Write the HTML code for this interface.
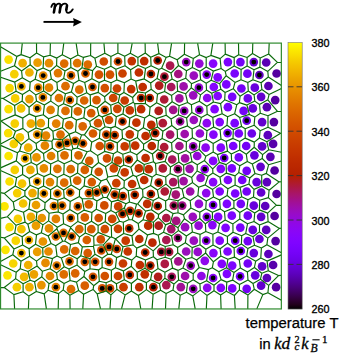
<!DOCTYPE html>
<html><head><meta charset="utf-8"><style>
html,body{margin:0;padding:0;background:#fff;}
svg{display:block;}
</style></head><body>
<svg width="342" height="353" viewBox="0 0 342 353">
<rect width="342" height="353" fill="#fff"/>
<defs><linearGradient id="cb" x1="0" y1="0" x2="0" y2="1"><stop offset="0.0000" stop-color="#ffff00"/><stop offset="0.0167" stop-color="#fdf200"/><stop offset="0.0333" stop-color="#fbe600"/><stop offset="0.0500" stop-color="#f9db00"/><stop offset="0.0667" stop-color="#f6cf00"/><stop offset="0.0833" stop-color="#f4c400"/><stop offset="0.1000" stop-color="#f2ba00"/><stop offset="0.1167" stop-color="#f0b000"/><stop offset="0.1333" stop-color="#eda600"/><stop offset="0.1500" stop-color="#eb9d00"/><stop offset="0.1667" stop-color="#e99400"/><stop offset="0.1833" stop-color="#e68b00"/><stop offset="0.2000" stop-color="#e48300"/><stop offset="0.2167" stop-color="#e27b00"/><stop offset="0.2333" stop-color="#df7300"/><stop offset="0.2500" stop-color="#dd6c00"/><stop offset="0.2667" stop-color="#da6500"/><stop offset="0.2833" stop-color="#d85e00"/><stop offset="0.3000" stop-color="#d55700"/><stop offset="0.3167" stop-color="#d35100"/><stop offset="0.3333" stop-color="#d04c00"/><stop offset="0.3500" stop-color="#ce4600"/><stop offset="0.3667" stop-color="#cb4100"/><stop offset="0.3833" stop-color="#c83c00"/><stop offset="0.4000" stop-color="#c63700"/><stop offset="0.4167" stop-color="#c33300"/><stop offset="0.4333" stop-color="#c02e00"/><stop offset="0.4500" stop-color="#bd2a00"/><stop offset="0.4667" stop-color="#ba2700"/><stop offset="0.4833" stop-color="#b72300"/><stop offset="0.5000" stop-color="#b42000"/><stop offset="0.5167" stop-color="#b11d1b"/><stop offset="0.5333" stop-color="#ae1a35"/><stop offset="0.5500" stop-color="#ab174f"/><stop offset="0.5667" stop-color="#a81568"/><stop offset="0.5833" stop-color="#a5127f"/><stop offset="0.6000" stop-color="#a11096"/><stop offset="0.6167" stop-color="#9e0eab"/><stop offset="0.6333" stop-color="#9a0dbe"/><stop offset="0.6500" stop-color="#970bce"/><stop offset="0.6667" stop-color="#9309dd"/><stop offset="0.6833" stop-color="#8f08e9"/><stop offset="0.7000" stop-color="#8c07f3"/><stop offset="0.7167" stop-color="#8806f9"/><stop offset="0.7333" stop-color="#8405fe"/><stop offset="0.7500" stop-color="#8004ff"/><stop offset="0.7667" stop-color="#7b03fe"/><stop offset="0.7833" stop-color="#7703f9"/><stop offset="0.8000" stop-color="#7202f3"/><stop offset="0.8167" stop-color="#6d02e9"/><stop offset="0.8333" stop-color="#6801dd"/><stop offset="0.8500" stop-color="#6301ce"/><stop offset="0.8667" stop-color="#5d01be"/><stop offset="0.8833" stop-color="#5700ab"/><stop offset="0.9000" stop-color="#510096"/><stop offset="0.9167" stop-color="#4a007f"/><stop offset="0.9333" stop-color="#420068"/><stop offset="0.9500" stop-color="#39004f"/><stop offset="0.9667" stop-color="#2f0035"/><stop offset="0.9833" stop-color="#21001b"/><stop offset="1.0000" stop-color="#000000"/></linearGradient></defs>
<g><circle cx="8.6" cy="59.6" r="4.35" fill="#fae000"/><circle cx="22.6" cy="63.2" r="4.35" fill="#f0b000"/><circle cx="37.6" cy="62.7" r="4.35" fill="#eb9d00"/><circle cx="49.0" cy="63.2" r="4.35" fill="#e68b00"/><circle cx="64.2" cy="63.6" r="4.35" fill="#dd6c00"/><circle cx="14.3" cy="74.2" r="4.35" fill="#f6cf00"/><circle cx="29.4" cy="72.5" r="4.35" fill="#f0b000"/><circle cx="43.2" cy="75.6" r="4.35" fill="#e68b00"/><circle cx="58.0" cy="73.1" r="4.35" fill="#e07700"/><circle cx="71.0" cy="75.4" r="4.35" fill="#dd6c00"/><circle cx="9.6" cy="88.1" r="4.35" fill="#f7d500"/><circle cx="21.4" cy="86.4" r="4.35" fill="#f0b000"/><circle cx="38.2" cy="87.7" r="4.35" fill="#e68b00"/><circle cx="49.0" cy="87.7" r="4.35" fill="#e48300"/><circle cx="65.5" cy="86.2" r="4.35" fill="#dd6c00"/><circle cx="15.2" cy="98.4" r="4.35" fill="#f6cf00"/><circle cx="29.4" cy="99.1" r="4.35" fill="#eb9d00"/><circle cx="42.9" cy="97.4" r="4.35" fill="#e68b00"/><circle cx="59.0" cy="98.0" r="4.35" fill="#df7300"/><circle cx="69.8" cy="100.0" r="4.35" fill="#dd6c00"/><circle cx="8.6" cy="109.2" r="4.35" fill="#fae000"/><circle cx="21.1" cy="108.4" r="4.35" fill="#f4c400"/><circle cx="37.2" cy="108.4" r="4.35" fill="#e99400"/><circle cx="50.6" cy="109.9" r="4.35" fill="#e37f00"/><circle cx="65.5" cy="110.9" r="4.35" fill="#dd6c00"/><circle cx="77.2" cy="63.2" r="4.35" fill="#df7300"/><circle cx="87.8" cy="64.6" r="4.35" fill="#dd6c00"/><circle cx="103.8" cy="61.5" r="4.35" fill="#d04c00"/><circle cx="118.0" cy="61.5" r="4.35" fill="#d04c00"/><circle cx="85.5" cy="73.5" r="4.35" fill="#da6500"/><circle cx="99.0" cy="74.6" r="4.35" fill="#d35100"/><circle cx="110.0" cy="74.6" r="4.35" fill="#d35100"/><circle cx="122.5" cy="73.5" r="4.35" fill="#cb4100"/><circle cx="79.3" cy="89.7" r="4.35" fill="#dd6c00"/><circle cx="92.5" cy="87.0" r="4.35" fill="#d75b00"/><circle cx="104.8" cy="88.1" r="4.35" fill="#d35100"/><circle cx="117.0" cy="88.5" r="4.35" fill="#cb4100"/><circle cx="84.2" cy="100.5" r="4.35" fill="#da6500"/><circle cx="96.5" cy="100.1" r="4.35" fill="#d75b00"/><circle cx="113.2" cy="98.0" r="4.35" fill="#ce4600"/><circle cx="124.7" cy="100.5" r="4.35" fill="#c73900"/><circle cx="77.8" cy="111.4" r="4.35" fill="#da6500"/><circle cx="91.2" cy="113.1" r="4.35" fill="#d75b00"/><circle cx="104.8" cy="109.9" r="4.35" fill="#d35100"/><circle cx="117.3" cy="108.8" r="4.35" fill="#ce4600"/><circle cx="131.8" cy="61.1" r="4.35" fill="#c33300"/><circle cx="144.2" cy="61.1" r="4.35" fill="#c02e00"/><circle cx="157.7" cy="60.5" r="4.35" fill="#b42000"/><circle cx="170.1" cy="65.7" r="4.35" fill="#ab174f"/><circle cx="186.2" cy="62.1" r="4.35" fill="#9a0dbe"/><circle cx="138.9" cy="72.5" r="4.35" fill="#c02e00"/><circle cx="150.9" cy="74.0" r="4.35" fill="#bc2900"/><circle cx="164.4" cy="76.7" r="4.35" fill="#ae1a35"/><circle cx="178.3" cy="74.0" r="4.35" fill="#a5127f"/><circle cx="131.2" cy="89.1" r="4.35" fill="#c33300"/><circle cx="142.7" cy="87.0" r="4.35" fill="#c02e00"/><circle cx="159.2" cy="85.6" r="4.35" fill="#b11d1b"/><circle cx="171.2" cy="87.0" r="4.35" fill="#a9165b"/><circle cx="183.6" cy="86.4" r="4.35" fill="#9e0eab"/><circle cx="141.1" cy="98.0" r="4.35" fill="#c02e00"/><circle cx="149.8" cy="98.0" r="4.35" fill="#bc2900"/><circle cx="164.2" cy="99.5" r="4.35" fill="#ae1a35"/><circle cx="179.4" cy="98.4" r="4.35" fill="#a00fa0"/><circle cx="129.8" cy="110.4" r="4.35" fill="#c63700"/><circle cx="141.1" cy="109.2" r="4.35" fill="#c02e00"/><circle cx="158.7" cy="110.9" r="4.35" fill="#b11d1b"/><circle cx="173.2" cy="109.9" r="4.35" fill="#a3118b"/><circle cx="184.2" cy="110.9" r="4.35" fill="#9a0dbe"/><circle cx="199.3" cy="63.6" r="4.35" fill="#950ad6"/><circle cx="213.1" cy="63.6" r="4.35" fill="#8605fc"/><circle cx="227.9" cy="62.1" r="4.35" fill="#7b03fe"/><circle cx="240.4" cy="62.1" r="4.35" fill="#7402f6"/><circle cx="193.8" cy="75.6" r="4.35" fill="#9a0dbe"/><circle cx="206.7" cy="74.6" r="4.35" fill="#8d07f0"/><circle cx="217.7" cy="77.3" r="4.35" fill="#8405fe"/><circle cx="234.7" cy="73.5" r="4.35" fill="#7903fc"/><circle cx="247.4" cy="73.7" r="4.35" fill="#7402f6"/><circle cx="198.9" cy="87.7" r="4.35" fill="#950ad6"/><circle cx="213.8" cy="87.0" r="4.35" fill="#8605fc"/><circle cx="226.3" cy="84.4" r="4.35" fill="#7b03fe"/><circle cx="241.4" cy="88.5" r="4.35" fill="#7402f6"/><circle cx="193.2" cy="95.3" r="4.35" fill="#9a0dbe"/><circle cx="207.2" cy="98.0" r="4.35" fill="#8d07f0"/><circle cx="217.7" cy="96.0" r="4.35" fill="#8405fe"/><circle cx="232.2" cy="96.8" r="4.35" fill="#7903fc"/><circle cx="247.8" cy="98.4" r="4.35" fill="#7002ee"/><circle cx="199.3" cy="109.9" r="4.35" fill="#950ad6"/><circle cx="214.6" cy="109.2" r="4.35" fill="#8405fe"/><circle cx="227.9" cy="107.2" r="4.35" fill="#7b03fe"/><circle cx="243.6" cy="110.9" r="4.35" fill="#7402f6"/><circle cx="253.8" cy="62.1" r="4.35" fill="#6301ce"/><circle cx="266.2" cy="62.5" r="4.35" fill="#5a00b4"/><circle cx="259.4" cy="75.0" r="4.35" fill="#5d01be"/><circle cx="276.6" cy="73.5" r="4.35" fill="#5400a0"/><circle cx="254.8" cy="87.7" r="4.35" fill="#6801dd"/><circle cx="268.4" cy="86.0" r="4.35" fill="#5a00b4"/><circle cx="261.1" cy="96.8" r="4.35" fill="#6301ce"/><circle cx="275.2" cy="100.1" r="4.35" fill="#5400a0"/><circle cx="252.8" cy="108.4" r="4.35" fill="#6801dd"/><circle cx="266.9" cy="107.2" r="4.35" fill="#5a00b4"/><circle cx="14.8" cy="123.6" r="4.35" fill="#f6cf00"/><circle cx="30.9" cy="123.6" r="4.35" fill="#efab00"/><circle cx="40.8" cy="123.2" r="4.35" fill="#eb9d00"/><circle cx="56.2" cy="123.6" r="4.35" fill="#e37f00"/><circle cx="8.2" cy="133.1" r="4.35" fill="#fae000"/><circle cx="19.9" cy="137.3" r="4.35" fill="#f4c400"/><circle cx="37.2" cy="134.6" r="4.35" fill="#e99400"/><circle cx="46.0" cy="135.6" r="4.35" fill="#e48300"/><circle cx="60.5" cy="134.6" r="4.35" fill="#dd6c00"/><circle cx="13.8" cy="143.9" r="4.35" fill="#f6cf00"/><circle cx="28.2" cy="147.7" r="4.35" fill="#f0b000"/><circle cx="44.9" cy="145.6" r="4.35" fill="#e48300"/><circle cx="59.5" cy="144.5" r="4.35" fill="#dd6c00"/><circle cx="67.0" cy="142.9" r="4.35" fill="#da6500"/><circle cx="8.6" cy="156.0" r="4.35" fill="#fbe600"/><circle cx="25.1" cy="158.4" r="4.35" fill="#f0b000"/><circle cx="36.5" cy="157.4" r="4.35" fill="#e99400"/><circle cx="51.1" cy="156.0" r="4.35" fill="#e37f00"/><circle cx="64.5" cy="155.3" r="4.35" fill="#dd6c00"/><circle cx="14.8" cy="169.9" r="4.35" fill="#f6cf00"/><circle cx="30.4" cy="169.9" r="4.35" fill="#efab00"/><circle cx="43.9" cy="168.4" r="4.35" fill="#e68b00"/><circle cx="57.4" cy="168.8" r="4.35" fill="#df7300"/><circle cx="69.2" cy="125.2" r="4.35" fill="#dd6c00"/><circle cx="82.7" cy="126.3" r="4.35" fill="#da6500"/><circle cx="98.0" cy="123.2" r="4.35" fill="#d45400"/><circle cx="109.0" cy="120.0" r="4.35" fill="#d04c00"/><circle cx="122.5" cy="121.5" r="4.35" fill="#ca3e00"/><circle cx="75.2" cy="140.8" r="4.35" fill="#da6500"/><circle cx="83.0" cy="143.5" r="4.35" fill="#d85e00"/><circle cx="93.0" cy="133.5" r="4.35" fill="#d75b00"/><circle cx="106.3" cy="134.6" r="4.35" fill="#d04c00"/><circle cx="114.7" cy="135.2" r="4.35" fill="#ce4600"/><circle cx="129.8" cy="134.3" r="4.35" fill="#c63700"/><circle cx="99.7" cy="146.0" r="4.35" fill="#d35100"/><circle cx="110.0" cy="146.4" r="4.35" fill="#d04c00"/><circle cx="124.7" cy="146.4" r="4.35" fill="#c83c00"/><circle cx="78.5" cy="155.3" r="4.35" fill="#da6500"/><circle cx="89.3" cy="160.9" r="4.35" fill="#d75b00"/><circle cx="107.0" cy="158.4" r="4.35" fill="#d04c00"/><circle cx="118.0" cy="160.5" r="4.35" fill="#cb4100"/><circle cx="128.8" cy="159.5" r="4.35" fill="#c33300"/><circle cx="70.7" cy="169.2" r="4.35" fill="#dd6c00"/><circle cx="84.8" cy="169.9" r="4.35" fill="#d85e00"/><circle cx="98.7" cy="171.8" r="4.35" fill="#d35100"/><circle cx="113.8" cy="168.4" r="4.35" fill="#ce4600"/><circle cx="124.7" cy="172.4" r="4.35" fill="#c73900"/><circle cx="136.4" cy="122.7" r="4.35" fill="#c33300"/><circle cx="151.3" cy="124.8" r="4.35" fill="#bd2a00"/><circle cx="162.8" cy="123.2" r="4.35" fill="#ae1a35"/><circle cx="180.1" cy="121.5" r="4.35" fill="#a00fa0"/><circle cx="145.6" cy="136.0" r="4.35" fill="#c02e00"/><circle cx="155.2" cy="133.1" r="4.35" fill="#ba2700"/><circle cx="170.1" cy="134.6" r="4.35" fill="#a81568"/><circle cx="184.7" cy="134.0" r="4.35" fill="#9e0eab"/><circle cx="135.2" cy="145.6" r="4.35" fill="#c33300"/><circle cx="151.8" cy="146.0" r="4.35" fill="#bc2900"/><circle cx="164.2" cy="147.0" r="4.35" fill="#ae1a35"/><circle cx="179.4" cy="146.0" r="4.35" fill="#a3118b"/><circle cx="145.6" cy="158.0" r="4.35" fill="#c02e00"/><circle cx="160.2" cy="156.0" r="4.35" fill="#b11d1b"/><circle cx="172.2" cy="159.5" r="4.35" fill="#a9165b"/><circle cx="185.1" cy="158.4" r="4.35" fill="#a00fa0"/><circle cx="138.9" cy="168.4" r="4.35" fill="#c33300"/><circle cx="148.8" cy="169.2" r="4.35" fill="#c02e00"/><circle cx="162.8" cy="168.4" r="4.35" fill="#ae1a35"/><circle cx="177.9" cy="169.2" r="4.35" fill="#a61474"/><circle cx="193.8" cy="120.0" r="4.35" fill="#9a0dbe"/><circle cx="206.8" cy="123.2" r="4.35" fill="#8d07f0"/><circle cx="219.7" cy="122.1" r="4.35" fill="#8405fe"/><circle cx="234.7" cy="123.2" r="4.35" fill="#7b03fe"/><circle cx="246.7" cy="120.7" r="4.35" fill="#7002ee"/><circle cx="199.9" cy="133.5" r="4.35" fill="#950ad6"/><circle cx="213.4" cy="134.6" r="4.35" fill="#8605fc"/><circle cx="227.6" cy="133.1" r="4.35" fill="#8004ff"/><circle cx="238.8" cy="133.5" r="4.35" fill="#7903fc"/><circle cx="193.2" cy="146.4" r="4.35" fill="#9a0dbe"/><circle cx="205.6" cy="147.7" r="4.35" fill="#8d07f0"/><circle cx="220.8" cy="147.7" r="4.35" fill="#8405fe"/><circle cx="233.2" cy="146.0" r="4.35" fill="#7b03fe"/><circle cx="246.2" cy="146.0" r="4.35" fill="#7402f6"/><circle cx="197.2" cy="156.0" r="4.35" fill="#950ad6"/><circle cx="213.1" cy="160.9" r="4.35" fill="#8605fc"/><circle cx="224.2" cy="158.0" r="4.35" fill="#8004ff"/><circle cx="238.8" cy="157.4" r="4.35" fill="#7903fc"/><circle cx="189.6" cy="168.8" r="4.35" fill="#9e0eab"/><circle cx="204.8" cy="169.2" r="4.35" fill="#8f08ec"/><circle cx="220.8" cy="168.8" r="4.35" fill="#8405fe"/><circle cx="231.8" cy="168.4" r="4.35" fill="#7b03fe"/><circle cx="246.7" cy="170.8" r="4.35" fill="#7402f6"/><circle cx="262.1" cy="122.1" r="4.35" fill="#6301ce"/><circle cx="273.9" cy="122.1" r="4.35" fill="#5400a0"/><circle cx="251.8" cy="133.5" r="4.35" fill="#6d02e9"/><circle cx="267.8" cy="135.2" r="4.35" fill="#5d01be"/><circle cx="262.1" cy="146.4" r="4.35" fill="#6301ce"/><circle cx="273.1" cy="143.9" r="4.35" fill="#5700ab"/><circle cx="254.4" cy="155.3" r="4.35" fill="#6801dd"/><circle cx="270.4" cy="156.8" r="4.35" fill="#5a00b4"/><circle cx="260.6" cy="166.8" r="4.35" fill="#6301ce"/><circle cx="274.6" cy="170.5" r="4.35" fill="#5400a0"/><circle cx="9.6" cy="181.5" r="4.35" fill="#fae000"/><circle cx="22.1" cy="183.6" r="4.35" fill="#f4c400"/><circle cx="37.2" cy="181.5" r="4.35" fill="#eb9d00"/><circle cx="50.0" cy="182.1" r="4.35" fill="#e48300"/><circle cx="64.2" cy="182.7" r="4.35" fill="#dd6c00"/><circle cx="17.2" cy="193.1" r="4.35" fill="#f6cf00"/><circle cx="32.5" cy="193.1" r="4.35" fill="#efab00"/><circle cx="43.9" cy="193.5" r="4.35" fill="#e99400"/><circle cx="57.4" cy="193.5" r="4.35" fill="#e27b00"/><circle cx="4.5" cy="206.4" r="4.35" fill="#fbe600"/><circle cx="23.1" cy="203.5" r="4.35" fill="#f4c400"/><circle cx="36.0" cy="205.0" r="4.35" fill="#eb9d00"/><circle cx="53.9" cy="206.0" r="4.35" fill="#e37f00"/><circle cx="62.1" cy="205.6" r="4.35" fill="#df7300"/><circle cx="17.9" cy="218.9" r="4.35" fill="#f6cf00"/><circle cx="30.9" cy="216.8" r="4.35" fill="#efab00"/><circle cx="41.8" cy="218.0" r="4.35" fill="#e99400"/><circle cx="55.9" cy="218.9" r="4.35" fill="#e37f00"/><circle cx="9.6" cy="227.2" r="4.35" fill="#fae000"/><circle cx="21.4" cy="229.2" r="4.35" fill="#f4c400"/><circle cx="36.0" cy="225.7" r="4.35" fill="#eb9d00"/><circle cx="49.0" cy="228.4" r="4.35" fill="#e68b00"/><circle cx="77.2" cy="180.7" r="4.35" fill="#da6500"/><circle cx="91.8" cy="182.1" r="4.35" fill="#d75b00"/><circle cx="116.3" cy="183.2" r="4.35" fill="#cb4100"/><circle cx="70.2" cy="192.5" r="4.35" fill="#dd6c00"/><circle cx="88.8" cy="193.1" r="4.35" fill="#d75b00"/><circle cx="96.8" cy="192.5" r="4.35" fill="#d45400"/><circle cx="104.8" cy="189.5" r="4.35" fill="#d04c00"/><circle cx="114.7" cy="194.6" r="4.35" fill="#cc4300"/><circle cx="122.8" cy="196.1" r="4.35" fill="#c83c00"/><circle cx="77.8" cy="206.4" r="4.35" fill="#da6500"/><circle cx="88.8" cy="204.3" r="4.35" fill="#d75b00"/><circle cx="104.3" cy="205.4" r="4.35" fill="#d04c00"/><circle cx="118.2" cy="206.4" r="4.35" fill="#cb4100"/><circle cx="122.5" cy="213.9" r="4.35" fill="#c73900"/><circle cx="130.1" cy="210.9" r="4.35" fill="#c33300"/><circle cx="70.7" cy="218.0" r="4.35" fill="#dd6c00"/><circle cx="84.8" cy="217.4" r="4.35" fill="#d85e00"/><circle cx="98.7" cy="218.0" r="4.35" fill="#d35100"/><circle cx="112.2" cy="218.9" r="4.35" fill="#ce4600"/><circle cx="79.3" cy="229.2" r="4.35" fill="#da6500"/><circle cx="91.3" cy="229.2" r="4.35" fill="#d75b00"/><circle cx="104.8" cy="229.2" r="4.35" fill="#d04c00"/><circle cx="118.0" cy="228.8" r="4.35" fill="#cb4100"/><circle cx="129.2" cy="228.4" r="4.35" fill="#c33300"/><circle cx="132.1" cy="184.0" r="4.35" fill="#c33300"/><circle cx="144.2" cy="180.0" r="4.35" fill="#c02e00"/><circle cx="158.7" cy="182.7" r="4.35" fill="#b42000"/><circle cx="173.2" cy="182.1" r="4.35" fill="#a9165b"/><circle cx="183.6" cy="181.1" r="4.35" fill="#a00fa0"/><circle cx="134.8" cy="194.8" r="4.35" fill="#c33300"/><circle cx="150.9" cy="194.0" r="4.35" fill="#bd2a00"/><circle cx="164.8" cy="191.5" r="4.35" fill="#ae1a35"/><circle cx="175.8" cy="194.6" r="4.35" fill="#a61474"/><circle cx="147.2" cy="203.9" r="4.35" fill="#c02e00"/><circle cx="157.7" cy="206.0" r="4.35" fill="#b42000"/><circle cx="173.8" cy="205.6" r="4.35" fill="#a9165b"/><circle cx="182.2" cy="205.6" r="4.35" fill="#a3118b"/><circle cx="138.6" cy="213.3" r="4.35" fill="#c02e00"/><circle cx="150.3" cy="216.8" r="4.35" fill="#bc2900"/><circle cx="166.3" cy="218.0" r="4.35" fill="#ad1942"/><circle cx="176.2" cy="220.9" r="4.35" fill="#a5127f"/><circle cx="148.2" cy="225.7" r="4.35" fill="#bf2c00"/><circle cx="158.7" cy="225.7" r="4.35" fill="#b11d1b"/><circle cx="171.2" cy="229.2" r="4.35" fill="#a81568"/><circle cx="185.1" cy="227.2" r="4.35" fill="#9a0dbe"/><circle cx="200.6" cy="178.0" r="4.35" fill="#950ad6"/><circle cx="213.1" cy="182.1" r="4.35" fill="#8806f9"/><circle cx="227.9" cy="180.0" r="4.35" fill="#8004ff"/><circle cx="242.2" cy="180.0" r="4.35" fill="#7703f9"/><circle cx="190.2" cy="191.5" r="4.35" fill="#9e0eab"/><circle cx="206.2" cy="193.1" r="4.35" fill="#8f08ec"/><circle cx="219.7" cy="191.5" r="4.35" fill="#8405fe"/><circle cx="235.2" cy="193.5" r="4.35" fill="#7b03fe"/><circle cx="246.7" cy="191.5" r="4.35" fill="#7402f6"/><circle cx="198.9" cy="203.9" r="4.35" fill="#950ad6"/><circle cx="213.1" cy="205.0" r="4.35" fill="#8806f9"/><circle cx="226.9" cy="203.9" r="4.35" fill="#8004ff"/><circle cx="240.8" cy="203.9" r="4.35" fill="#7703f9"/><circle cx="192.8" cy="216.8" r="4.35" fill="#9a0dbe"/><circle cx="206.8" cy="216.8" r="4.35" fill="#8f08ec"/><circle cx="218.1" cy="216.8" r="4.35" fill="#8405fe"/><circle cx="231.8" cy="215.7" r="4.35" fill="#7d04ff"/><circle cx="247.8" cy="215.7" r="4.35" fill="#7402f6"/><circle cx="198.6" cy="225.7" r="4.35" fill="#950ad6"/><circle cx="212.4" cy="225.1" r="4.35" fill="#8806f9"/><circle cx="225.6" cy="227.8" r="4.35" fill="#8004ff"/><circle cx="240.3" cy="227.6" r="4.35" fill="#7903fc"/><circle cx="256.6" cy="182.1" r="4.35" fill="#6801dd"/><circle cx="266.9" cy="182.1" r="4.35" fill="#5d01be"/><circle cx="261.1" cy="192.5" r="4.35" fill="#6301ce"/><circle cx="276.6" cy="194.0" r="4.35" fill="#5400a0"/><circle cx="253.8" cy="205.6" r="4.35" fill="#6801dd"/><circle cx="265.2" cy="206.0" r="4.35" fill="#5d01be"/><circle cx="261.1" cy="216.8" r="4.35" fill="#6301ce"/><circle cx="274.6" cy="216.0" r="4.35" fill="#5400a0"/><circle cx="252.8" cy="229.9" r="4.35" fill="#6801dd"/><circle cx="266.2" cy="229.9" r="4.35" fill="#5d01be"/><circle cx="55.9" cy="236.5" r="4.35" fill="#df7300"/><circle cx="15.8" cy="240.7" r="4.35" fill="#f7d500"/><circle cx="28.9" cy="240.0" r="4.35" fill="#f0b000"/><circle cx="42.9" cy="241.5" r="4.35" fill="#e99400"/><circle cx="5.5" cy="249.8" r="4.35" fill="#fbe600"/><circle cx="21.4" cy="253.1" r="4.35" fill="#f2ba00"/><circle cx="37.2" cy="251.9" r="4.35" fill="#eb9d00"/><circle cx="48.5" cy="251.5" r="4.35" fill="#e68b00"/><circle cx="64.2" cy="249.4" r="4.35" fill="#dd6c00"/><circle cx="13.2" cy="263.5" r="4.35" fill="#f7d500"/><circle cx="28.2" cy="265.0" r="4.35" fill="#f0b000"/><circle cx="45.5" cy="262.9" r="4.35" fill="#e68b00"/><circle cx="56.8" cy="265.6" r="4.35" fill="#e27b00"/><circle cx="7.5" cy="275.3" r="4.35" fill="#fbe600"/><circle cx="24.1" cy="276.8" r="4.35" fill="#f2ba00"/><circle cx="33.9" cy="274.3" r="4.35" fill="#eca100"/><circle cx="50.0" cy="276.0" r="4.35" fill="#e58700"/><circle cx="63.8" cy="274.4" r="4.35" fill="#dd6c00"/><circle cx="16.9" cy="287.2" r="4.35" fill="#f6cf00"/><circle cx="29.4" cy="287.2" r="4.35" fill="#f0b000"/><circle cx="41.4" cy="285.1" r="4.35" fill="#e99400"/><circle cx="55.9" cy="287.2" r="4.35" fill="#e37f00"/><circle cx="63.5" cy="232.9" r="4.35" fill="#dd6c00"/><circle cx="71.7" cy="236.5" r="4.35" fill="#da6500"/><circle cx="86.8" cy="240.0" r="4.35" fill="#d85e00"/><circle cx="100.8" cy="239.4" r="4.35" fill="#d35100"/><circle cx="109.0" cy="246.9" r="4.35" fill="#d04c00"/><circle cx="116.8" cy="249.0" r="4.35" fill="#ce4600"/><circle cx="125.7" cy="240.7" r="4.35" fill="#c73900"/><circle cx="75.2" cy="251.0" r="4.35" fill="#da6500"/><circle cx="87.7" cy="253.1" r="4.35" fill="#d75b00"/><circle cx="101.3" cy="250.4" r="4.35" fill="#d35100"/><circle cx="127.8" cy="251.5" r="4.35" fill="#c63700"/><circle cx="69.5" cy="261.4" r="4.35" fill="#dd6c00"/><circle cx="84.8" cy="261.8" r="4.35" fill="#d85e00"/><circle cx="95.2" cy="261.8" r="4.35" fill="#d55700"/><circle cx="109.0" cy="261.8" r="4.35" fill="#d04c00"/><circle cx="123.0" cy="263.5" r="4.35" fill="#c83c00"/><circle cx="75.2" cy="273.3" r="4.35" fill="#da6500"/><circle cx="93.0" cy="276.8" r="4.35" fill="#d55700"/><circle cx="104.8" cy="276.0" r="4.35" fill="#d24e00"/><circle cx="118.0" cy="276.0" r="4.35" fill="#cc4300"/><circle cx="71.0" cy="289.2" r="4.35" fill="#dd6c00"/><circle cx="84.8" cy="285.7" r="4.35" fill="#d85e00"/><circle cx="102.2" cy="288.4" r="4.35" fill="#d35100"/><circle cx="110.0" cy="288.4" r="4.35" fill="#d04c00"/><circle cx="123.5" cy="287.2" r="4.35" fill="#ca3e00"/><circle cx="139.3" cy="239.0" r="4.35" fill="#c02e00"/><circle cx="152.4" cy="242.7" r="4.35" fill="#bc2900"/><circle cx="166.3" cy="240.0" r="4.35" fill="#ab174f"/><circle cx="177.9" cy="238.0" r="4.35" fill="#a5127f"/><circle cx="145.2" cy="252.5" r="4.35" fill="#c02e00"/><circle cx="161.3" cy="251.9" r="4.35" fill="#ae1a35"/><circle cx="169.1" cy="251.9" r="4.35" fill="#ad1942"/><circle cx="186.2" cy="251.5" r="4.35" fill="#9a0dbe"/><circle cx="139.9" cy="265.0" r="4.35" fill="#c02e00"/><circle cx="150.3" cy="265.6" r="4.35" fill="#bc2900"/><circle cx="164.8" cy="263.9" r="4.35" fill="#ad1942"/><circle cx="178.3" cy="261.4" r="4.35" fill="#a3118b"/><circle cx="129.8" cy="274.9" r="4.35" fill="#c33300"/><circle cx="144.8" cy="274.3" r="4.35" fill="#c02e00"/><circle cx="158.1" cy="276.8" r="4.35" fill="#b11d1b"/><circle cx="171.8" cy="276.8" r="4.35" fill="#a9165b"/><circle cx="185.1" cy="276.0" r="4.35" fill="#9e0eab"/><circle cx="139.3" cy="287.2" r="4.35" fill="#c02e00"/><circle cx="153.4" cy="287.2" r="4.35" fill="#b42000"/><circle cx="166.3" cy="285.1" r="4.35" fill="#ab174f"/><circle cx="180.8" cy="287.2" r="4.35" fill="#a11096"/><circle cx="193.8" cy="240.7" r="4.35" fill="#9a0dbe"/><circle cx="206.2" cy="240.7" r="4.35" fill="#8f08ec"/><circle cx="219.7" cy="240.7" r="4.35" fill="#8405fe"/><circle cx="235.2" cy="240.7" r="4.35" fill="#7b03fe"/><circle cx="247.8" cy="241.1" r="4.35" fill="#7402f6"/><circle cx="197.8" cy="251.9" r="4.35" fill="#970bce"/><circle cx="213.4" cy="253.1" r="4.35" fill="#8806f9"/><circle cx="227.6" cy="251.5" r="4.35" fill="#8004ff"/><circle cx="240.8" cy="251.0" r="4.35" fill="#7703f9"/><circle cx="204.8" cy="260.8" r="4.35" fill="#8f08ec"/><circle cx="190.7" cy="265.6" r="4.35" fill="#9a0dbe"/><circle cx="221.8" cy="263.9" r="4.35" fill="#8405fe"/><circle cx="232.2" cy="265.6" r="4.35" fill="#7d04ff"/><circle cx="247.8" cy="263.5" r="4.35" fill="#7402f6"/><circle cx="201.4" cy="276.0" r="4.35" fill="#9008e6"/><circle cx="213.1" cy="278.0" r="4.35" fill="#8806f9"/><circle cx="226.9" cy="273.9" r="4.35" fill="#8004ff"/><circle cx="240.1" cy="276.4" r="4.35" fill="#7903fc"/><circle cx="193.2" cy="288.8" r="4.35" fill="#9a0dbe"/><circle cx="207.2" cy="287.8" r="4.35" fill="#8d07f0"/><circle cx="220.8" cy="287.8" r="4.35" fill="#8405fe"/><circle cx="232.2" cy="288.4" r="4.35" fill="#7d04ff"/><circle cx="246.7" cy="288.8" r="4.35" fill="#7402f6"/><circle cx="259.4" cy="239.0" r="4.35" fill="#6501d6"/><circle cx="275.6" cy="241.1" r="4.35" fill="#5400a0"/><circle cx="253.8" cy="253.1" r="4.35" fill="#6801dd"/><circle cx="268.4" cy="254.0" r="4.35" fill="#5d01be"/><circle cx="262.1" cy="266.4" r="4.35" fill="#6301ce"/><circle cx="273.1" cy="265.0" r="4.35" fill="#5700ab"/><circle cx="255.2" cy="275.3" r="4.35" fill="#6801dd"/><circle cx="266.9" cy="278.0" r="4.35" fill="#5d01be"/><circle cx="261.1" cy="285.7" r="4.35" fill="#6301ce"/><circle cx="276.1" cy="287.2" r="4.35" fill="#5400a0"/></g>
<g fill="#000"><circle cx="43.2" cy="75.6" r="2.40"/><circle cx="71.0" cy="75.4" r="2.40"/><circle cx="21.4" cy="86.4" r="2.40"/><circle cx="38.2" cy="87.7" r="2.40"/><circle cx="42.9" cy="97.4" r="2.40"/><circle cx="69.8" cy="100.0" r="2.40"/><circle cx="37.2" cy="108.4" r="2.40"/><circle cx="118.0" cy="61.5" r="2.40"/><circle cx="85.5" cy="73.5" r="2.40"/><circle cx="92.5" cy="87.0" r="2.40"/><circle cx="104.8" cy="109.9" r="2.40"/><circle cx="157.7" cy="60.5" r="2.40"/><circle cx="186.2" cy="62.1" r="2.40"/><circle cx="150.9" cy="74.0" r="2.40"/><circle cx="164.4" cy="76.7" r="2.40"/><circle cx="141.1" cy="98.0" r="2.40"/><circle cx="149.8" cy="98.0" r="2.40"/><circle cx="184.2" cy="110.9" r="2.40"/><circle cx="206.7" cy="74.6" r="2.40"/><circle cx="198.9" cy="87.7" r="2.40"/><circle cx="199.3" cy="109.9" r="2.40"/><circle cx="253.8" cy="62.1" r="2.40"/><circle cx="259.4" cy="75.0" r="2.40"/><circle cx="37.2" cy="134.6" r="2.40"/><circle cx="59.5" cy="144.5" r="2.40"/><circle cx="67.0" cy="142.9" r="2.40"/><circle cx="25.1" cy="158.4" r="2.40"/><circle cx="122.5" cy="121.5" r="2.40"/><circle cx="75.2" cy="140.8" r="2.40"/><circle cx="83.0" cy="143.5" r="2.40"/><circle cx="106.3" cy="134.6" r="2.40"/><circle cx="114.7" cy="135.2" r="2.40"/><circle cx="110.0" cy="146.4" r="2.40"/><circle cx="128.8" cy="159.5" r="2.40"/><circle cx="180.1" cy="121.5" r="2.40"/><circle cx="155.2" cy="133.1" r="2.40"/><circle cx="160.2" cy="156.0" r="2.40"/><circle cx="177.9" cy="169.2" r="2.40"/><circle cx="246.7" cy="120.7" r="2.40"/><circle cx="227.6" cy="133.1" r="2.40"/><circle cx="193.2" cy="146.4" r="2.40"/><circle cx="224.2" cy="158.0" r="2.40"/><circle cx="204.8" cy="169.2" r="2.40"/><circle cx="37.2" cy="181.5" r="2.40"/><circle cx="43.9" cy="193.5" r="2.40"/><circle cx="57.4" cy="193.5" r="2.40"/><circle cx="53.9" cy="206.0" r="2.40"/><circle cx="62.1" cy="205.6" r="2.40"/><circle cx="70.2" cy="192.5" r="2.40"/><circle cx="88.8" cy="193.1" r="2.40"/><circle cx="96.8" cy="192.5" r="2.40"/><circle cx="104.8" cy="189.5" r="2.40"/><circle cx="114.7" cy="194.6" r="2.40"/><circle cx="122.8" cy="196.1" r="2.40"/><circle cx="77.8" cy="206.4" r="2.40"/><circle cx="122.5" cy="213.9" r="2.40"/><circle cx="130.1" cy="210.9" r="2.40"/><circle cx="70.7" cy="218.0" r="2.40"/><circle cx="129.2" cy="228.4" r="2.40"/><circle cx="158.7" cy="182.7" r="2.40"/><circle cx="134.8" cy="194.8" r="2.40"/><circle cx="150.9" cy="194.0" r="2.40"/><circle cx="157.7" cy="206.0" r="2.40"/><circle cx="173.8" cy="205.6" r="2.40"/><circle cx="182.2" cy="205.6" r="2.40"/><circle cx="138.6" cy="213.3" r="2.40"/><circle cx="213.1" cy="205.0" r="2.40"/><circle cx="206.8" cy="216.8" r="2.40"/><circle cx="55.9" cy="236.5" r="2.40"/><circle cx="28.9" cy="240.0" r="2.40"/><circle cx="21.4" cy="253.1" r="2.40"/><circle cx="56.8" cy="265.6" r="2.40"/><circle cx="55.9" cy="287.2" r="2.40"/><circle cx="63.5" cy="232.9" r="2.40"/><circle cx="71.7" cy="236.5" r="2.40"/><circle cx="109.0" cy="246.9" r="2.40"/><circle cx="116.8" cy="249.0" r="2.40"/><circle cx="101.3" cy="250.4" r="2.40"/><circle cx="69.5" cy="261.4" r="2.40"/><circle cx="84.8" cy="261.8" r="2.40"/><circle cx="95.2" cy="261.8" r="2.40"/><circle cx="109.0" cy="261.8" r="2.40"/><circle cx="93.0" cy="276.8" r="2.40"/><circle cx="102.2" cy="288.4" r="2.40"/><circle cx="110.0" cy="288.4" r="2.40"/><circle cx="177.9" cy="238.0" r="2.40"/><circle cx="145.2" cy="252.5" r="2.40"/><circle cx="161.3" cy="251.9" r="2.40"/><circle cx="169.1" cy="251.9" r="2.40"/><circle cx="150.3" cy="265.6" r="2.40"/><circle cx="129.8" cy="274.9" r="2.40"/><circle cx="171.8" cy="276.8" r="2.40"/><circle cx="153.4" cy="287.2" r="2.40"/><circle cx="206.2" cy="240.7" r="2.40"/><circle cx="235.2" cy="240.7" r="2.40"/><circle cx="240.8" cy="251.0" r="2.40"/><circle cx="190.7" cy="265.6" r="2.40"/><circle cx="213.1" cy="278.0" r="2.40"/><circle cx="240.1" cy="276.4" r="2.40"/><circle cx="193.2" cy="288.8" r="2.40"/></g>
<path d="M0.5 121.0L0.9 121.0M0.9 121.0L15.5 131.2M15.5 131.2L13.3 137.3M0.6 143.9L13.3 137.3M269.2 43.1L268.7 54.0M252.8 43.1L252.5 53.5M252.5 53.5L260.2 57.9M268.7 54.0L260.2 57.9M28.4 308.9L28.9 296.1M46.4 308.9L44.2 293.9M44.2 293.9L36.3 291.5M28.9 296.1L36.3 291.5M28.0 271.5L37.1 266.0M28.0 271.5L30.2 280.3M30.2 280.3L34.6 281.8M34.6 281.8L41.8 276.8M41.8 276.8L42.4 271.3M42.4 271.3L37.1 266.0M16.2 272.2L0.6 264.7M16.2 272.2L20.2 268.8M20.2 268.8L21.0 261.3M0.5 261.6L12.8 254.7M21.0 261.3L12.8 254.7M0.5 237.2L4.2 237.9M4.2 237.9L14.0 249.0M14.0 249.0L12.8 254.7M0.9 121.0L15.2 114.9M15.5 131.2L22.9 128.4M22.9 128.4L22.8 118.1M22.8 118.1L15.2 114.9M36.6 53.0L30.0 57.7M36.5 43.1L36.6 53.0M22.3 43.1L21.1 54.6M30.0 57.7L21.1 54.6M0.5 46.7L16.9 56.4M16.9 56.4L21.1 54.6M252.5 53.5L247.1 57.5M247.1 57.5L238.7 54.7M238.7 54.7L238.5 43.1M268.7 54.0L277.4 62.4M277.4 62.4L281.4 62.5M23.1 283.8L23.1 291.7M23.1 283.8L15.6 278.6M23.1 291.7L13.9 294.6M15.6 278.6L4.2 287.5M4.2 287.5L13.9 294.6M36.3 291.5L34.6 281.8M28.9 296.1L23.1 291.7M30.2 280.3L23.1 283.8M28.0 271.5L20.2 268.8M16.2 272.2L15.6 278.6M14.6 308.9L13.9 294.6M0.6 287.6L4.2 287.5M247.1 57.5L247.1 66.0M247.1 66.0L254.0 69.7M260.2 57.9L259.9 67.1M254.0 69.7L259.9 67.1M277.4 62.4L267.8 71.4M259.9 67.1L267.8 71.4M44.2 293.9L48.0 290.3M41.8 276.8L49.0 283.7M49.0 283.7L48.0 290.3M58.2 308.9L58.6 293.6M48.0 290.3L58.6 293.6M83.6 294.3L78.6 290.4M83.6 294.3L82.8 308.9M78.6 290.4L69.9 295.2M70.1 308.9L69.9 295.2M58.6 293.6L63.2 289.9M63.2 289.9L69.9 295.2M22.6 245.1L29.1 248.8M22.6 245.1L14.0 249.0M21.0 261.3L29.6 256.3M29.1 248.8L29.6 256.3M37.1 266.0L36.5 261.1M36.5 261.1L29.6 256.3M62.3 54.7L63.8 43.1M62.3 54.7L56.8 58.1M50.4 43.1L50.1 55.2M56.8 58.1L50.1 55.2M36.6 53.0L43.6 56.9M43.6 56.9L50.1 55.2M30.2 82.2L22.3 77.7M30.2 82.2L35.1 79.3M35.1 79.3L37.1 70.6M22.3 77.7L21.6 71.0M21.6 71.0L30.2 64.8M30.2 64.8L37.1 70.6M30.0 57.7L30.2 64.8M16.9 56.4L14.5 65.7M14.5 65.7L21.6 71.0M43.1 68.0L43.6 56.9M43.1 68.0L37.1 70.6M238.7 54.7L234.2 57.6M225.1 43.1L225.3 54.1M225.3 54.1L234.2 57.6M221.1 308.9L220.6 295.0M220.6 295.0L226.3 291.3M226.3 291.3L234.4 295.5M235.2 308.9L234.4 295.5M252.9 79.8L261.1 82.8M252.9 79.8L254.0 69.7M267.8 71.4L268.3 77.0M261.1 82.8L268.3 77.0M268.3 77.0L281.4 85.6M145.3 53.0L145.1 43.1M132.2 43.1L130.3 53.3M145.3 53.0L137.9 57.4M130.3 53.3L137.9 57.4M117.9 43.1L117.9 53.0M117.9 53.0L124.7 56.3M130.3 53.3L124.7 56.3M103.9 43.1L104.8 53.2M117.9 53.0L110.9 56.5M104.8 53.2L110.9 56.5M76.1 43.1L77.9 54.9M62.3 54.7L70.6 58.9M70.6 58.9L77.9 54.9M150.7 83.0L157.1 78.4M150.7 83.0L151.2 89.3M157.1 78.4L165.6 83.3M151.2 89.3L157.5 94.1M157.5 94.1L164.6 91.5M165.6 83.3L164.6 91.5M3.1 98.4L16.1 91.2M3.1 98.4L0.5 98.2M0.6 77.2L14.8 82.1M16.1 91.2L14.8 82.1M22.5 94.5L16.1 91.2M22.2 101.1L22.5 94.5M14.6 105.5L22.2 101.1M14.6 105.5L3.1 98.4M15.2 114.9L14.6 105.5M14.5 65.7L0.6 71.2M22.3 77.7L14.8 82.1M29.6 90.1L22.5 94.5M29.6 90.1L30.2 82.2M184.4 54.3L184.6 43.1M184.4 54.3L177.2 59.8M171.6 43.1L169.6 56.2M169.6 56.2L177.2 59.8M186.5 70.8L185.7 78.2M186.5 70.8L178.5 65.5M172.1 79.0L177.1 81.8M172.1 79.0L171.0 73.1M171.0 73.1L178.5 65.5M185.7 78.2L177.1 81.8M171.6 95.4L164.6 91.5M171.6 95.4L177.6 91.1M172.1 79.0L165.6 83.3M177.6 91.1L177.1 81.8M200.6 79.8L191.5 83.7M200.6 79.8L199.9 71.2M185.7 78.2L191.5 83.7M186.5 70.8L192.3 67.6M192.3 67.6L199.9 71.2M177.2 59.8L178.5 65.5M184.4 54.3L193.3 58.5M192.3 67.6L193.3 58.5M197.6 43.1L199.5 54.7M193.3 58.5L199.5 54.7M221.1 68.5L220.1 58.6M221.1 68.5L213.3 71.1M213.3 71.1L206.2 67.0M220.1 58.6L210.9 55.4M206.2 67.0L206.2 57.6M210.9 55.4L206.2 57.6M211.1 80.3L213.3 71.1M211.1 80.3L206.2 83.2M206.2 83.2L200.6 79.8M199.9 71.2L206.2 67.0M212.8 43.1L210.9 55.4M225.3 54.1L220.1 58.6M199.5 54.7L206.2 57.6M281.4 300.3L267.9 292.7M281.4 275.2L278.5 275.6M267.9 292.7L268.7 285.4M278.5 275.6L268.7 285.4M260.5 279.2L268.7 285.4M260.5 279.2L261.8 273.3M278.5 275.6L268.3 270.7M268.3 270.7L261.8 273.3M220.6 295.0L214.0 290.8M206.3 308.9L207.0 295.4M214.0 290.8L207.0 295.4M195.2 308.9L192.8 295.9M192.8 295.9L200.3 290.1M207.0 295.4L200.3 290.1M267.9 292.7L262.8 294.6M262.8 294.6L256.8 308.9M239.3 260.0L246.7 255.9M255.7 261.2L246.7 255.9M254.4 267.5L255.7 261.2M254.4 267.5L247.4 272.0M239.3 260.0L240.4 267.9M247.4 272.0L240.4 267.9M199.3 125.6L207.0 130.7M199.3 125.6L201.3 117.6M207.0 130.7L213.6 126.9M212.8 117.4L213.6 126.9M212.8 117.4L207.2 114.3M201.3 117.6L207.2 114.3M187.5 125.9L186.6 118.0M192.1 128.9L187.5 125.9M192.1 128.9L199.3 125.6M186.6 118.0L191.9 112.4M201.3 117.6L191.9 112.4M225.2 71.4L234.2 66.1M225.2 71.4L226.2 75.7M226.2 75.7L235.0 82.4M234.2 66.1L241.1 69.6M241.1 69.6L241.0 79.7M241.0 79.7L235.0 82.4M221.1 68.5L225.2 71.4M234.2 57.6L234.2 66.1M211.1 80.3L219.7 83.7M219.7 83.7L226.2 75.7M247.1 66.0L241.1 69.6M252.9 79.8L247.8 82.5M247.8 82.5L241.0 79.7M110.9 66.2L110.9 56.5M124.7 56.3L125.0 65.7M110.9 66.2L115.9 69.2M115.9 69.2L125.0 65.7M43.1 68.0L50.1 71.2M56.8 58.1L56.6 65.4M56.6 65.4L50.1 71.2M77.8 71.2L70.9 67.6M77.8 71.2L79.0 80.3M79.0 80.3L73.6 83.5M73.6 83.5L63.7 78.5M70.9 67.6L65.0 71.0M65.0 71.0L63.7 78.5M56.6 65.4L65.0 71.0M70.6 58.9L70.9 67.6M82.0 67.8L83.4 57.4M82.0 67.8L92.6 70.6M92.6 70.6L96.5 66.2M96.5 66.2L94.9 58.2M83.4 57.4L90.6 55.5M90.6 55.5L94.9 58.2M77.8 71.2L82.0 67.8M77.9 54.9L83.4 57.4M91.9 78.8L92.6 70.6M84.7 82.5L91.9 78.8M84.7 82.5L79.0 80.3M104.5 69.2L96.5 66.2M110.9 66.2L104.5 69.2M104.8 53.2L94.9 58.2M90.7 43.1L90.6 55.5M157.5 94.1L156.6 102.8M172.1 101.8L165.7 107.3M171.6 95.4L172.1 101.8M156.6 102.8L165.7 107.3M178.3 114.7L179.1 105.7M172.1 101.8L179.1 105.7M171.1 119.0L178.3 114.7M171.1 119.0L166.2 115.2M166.2 115.2L165.7 107.3M186.4 141.9L177.5 138.0M192.4 137.8L186.4 141.9M192.4 137.8L192.1 128.9M187.5 125.9L177.2 129.7M177.5 138.0L177.2 129.7M186.6 118.0L178.3 114.7M171.1 119.0L171.8 125.5M171.8 125.5L177.2 129.7M131.4 291.0L125.1 294.9M138.4 295.5L131.4 291.0M140.8 308.9L138.4 295.5M125.1 294.9L121.5 308.9M166.1 293.5L165.5 308.9M152.1 308.9L153.1 294.2M166.1 293.5L160.6 290.3M160.6 290.3L153.1 294.2M138.4 295.5L146.4 289.6M153.1 294.2L146.4 289.6M131.4 291.0L131.4 283.5M131.4 283.5L137.4 278.8M137.4 278.8L146.4 282.6M146.4 289.6L146.4 282.6M0.5 218.4L7.4 216.7M4.2 237.9L14.7 233.0M7.4 216.7L16.0 225.3M14.7 233.0L16.0 225.3M22.6 245.1L22.2 236.7M14.7 233.0L22.2 236.7M36.5 234.9L29.7 231.5M35.5 244.2L36.5 234.9M29.1 248.8L35.5 244.2M22.2 236.7L29.7 231.5M100.5 308.9L97.2 293.9M83.6 294.3L93.1 289.4M93.1 289.4L97.2 293.9M63.2 289.9L64.1 283.4M49.0 283.7L57.4 279.3M64.1 283.4L57.4 279.3M42.4 271.3L50.1 268.7M50.1 268.7L56.6 272.9M57.4 279.3L56.6 272.9M50.1 268.7L52.5 258.6M36.5 261.1L43.0 256.2M52.5 258.6L43.0 256.2M35.5 244.2L42.7 248.1M43.0 256.2L42.7 248.1M158.9 69.5L151.1 65.7M158.9 69.5L161.6 68.3M161.6 68.3L166.2 57.4M151.1 65.7L150.7 57.2M150.7 57.2L158.9 53.6M158.9 53.6L166.2 57.4M157.1 78.4L158.9 69.5M171.0 73.1L161.6 68.3M169.6 56.2L166.2 57.4M145.3 53.0L150.7 57.2M157.6 43.1L158.9 53.6M267.1 261.1L260.8 258.0M267.1 261.1L281.4 254.9M260.8 258.0L261.4 248.0M281.4 252.8L266.9 244.7M266.9 244.7L261.4 248.0M254.4 267.5L261.8 273.3M255.7 261.2L260.8 258.0M268.3 270.7L267.1 261.1M254.5 245.2L261.4 248.0M247.9 248.6L254.5 245.2M246.7 255.9L247.9 248.6M267.8 238.1L266.9 244.7M279.5 228.4L267.8 238.1M281.4 228.3L279.5 228.4M214.0 290.8L214.0 285.2M199.9 284.1L200.3 290.1M199.9 284.1L206.6 280.8M206.6 280.8L214.0 285.2M226.3 291.3L226.8 282.1M226.8 282.1L221.1 279.6M214.0 285.2L221.1 279.6M226.8 282.1L232.6 280.1M232.6 280.1L234.0 272.5M226.5 267.8L234.0 272.5M226.5 267.8L218.8 271.8M221.1 279.6L218.8 271.8M253.0 283.4L248.0 280.1M253.0 283.4L254.3 289.3M254.3 289.3L247.9 295.1M248.0 280.1L239.5 284.6M247.9 295.1L239.4 289.9M239.4 289.9L239.5 284.6M247.4 272.0L248.0 280.1M260.5 279.2L253.0 283.4M262.8 294.6L254.3 289.3M247.8 308.9L247.9 295.1M234.0 272.5L240.4 267.9M232.6 280.1L239.5 284.6M234.4 295.5L239.4 289.9M231.6 160.6L231.3 154.0M231.6 160.6L239.8 165.8M231.3 154.0L239.7 149.9M239.7 149.9L246.3 154.2M239.8 165.8L247.3 161.4M246.3 154.2L247.3 161.4M226.2 141.4L233.0 138.4M233.0 138.4L239.7 141.4M239.7 141.4L239.7 149.9M226.2 141.4L227.5 151.1M227.5 151.1L231.3 154.0M259.4 138.0L266.9 141.8M259.4 138.0L254.3 142.1M254.2 147.3L254.3 142.1M254.2 147.3L262.6 154.6M266.9 141.8L268.7 149.7M262.6 154.6L268.7 149.7M280.6 133.3L268.0 127.3M280.6 133.3L266.9 141.8M268.0 127.3L260.1 130.7M260.1 130.7L259.4 138.0M245.2 138.1L254.3 142.1M239.7 141.4L245.2 138.1M246.3 154.2L254.2 147.3M281.4 133.3L280.6 133.3M281.4 152.3L268.7 149.7M221.0 139.0L220.1 130.1M220.1 130.1L227.0 125.2M233.0 138.4L233.3 129.7M226.2 141.4L221.0 139.0M233.3 129.7L227.0 125.2M213.6 126.9L220.1 130.1M212.8 117.4L222.1 113.7M222.1 113.7L227.6 116.8M227.0 125.2L227.6 116.8M247.8 82.5L248.3 91.1M233.3 88.7L235.0 82.4M233.3 88.7L240.1 96.3M248.3 91.1L240.1 96.3M252.3 163.9L255.0 173.5M252.3 163.9L262.2 158.5M262.2 158.5L268.6 164.8M268.6 164.8L266.3 173.4M255.0 173.5L261.7 175.3M266.3 173.4L261.7 175.3M247.3 161.4L252.3 163.9M262.6 154.6L262.2 158.5M281.4 161.0L268.6 164.8M281.4 181.7L279.2 181.9M279.2 181.9L266.3 173.4M220.6 103.6L224.7 99.8M220.6 103.6L213.4 102.0M211.7 93.2L213.4 102.0M211.7 93.2L220.9 89.3M224.7 99.8L225.1 92.5M220.9 89.3L225.1 92.5M222.1 113.7L220.6 103.6M227.6 116.8L234.6 113.8M236.8 104.7L234.6 113.8M236.8 104.7L224.7 99.8M207.2 114.3L206.8 106.3M206.8 106.3L213.4 102.0M219.7 83.7L220.9 89.3M206.5 90.1L206.2 83.2M206.5 90.1L211.7 93.2M233.3 88.7L225.1 92.5M240.1 96.3L239.4 102.6M236.8 104.7L239.4 102.6M200.5 94.9L191.2 87.8M200.5 94.9L199.3 101.3M199.3 101.3L191.4 104.7M185.6 93.8L191.2 87.8M185.6 93.8L187.6 102.5M187.6 102.5L191.4 104.7M206.5 90.1L200.5 94.9M191.5 83.7L191.2 87.8M206.8 106.3L199.3 101.3M191.9 112.4L191.4 104.7M177.6 91.1L185.6 93.8M179.1 105.7L187.6 102.5M130.6 69.8L131.1 79.0M130.6 69.8L138.0 65.2M144.2 78.9L145.5 68.6M144.2 78.9L135.7 81.1M135.7 81.1L131.1 79.0M145.5 68.6L138.0 65.2M137.9 57.4L138.0 65.2M125.0 65.7L130.6 69.8M151.1 65.7L145.5 68.6M150.7 83.0L144.2 78.9M22.8 118.1L29.1 113.9M22.2 101.1L29.1 107.3M29.1 113.9L29.1 107.3M212.6 189.4L205.2 184.9M212.6 189.4L213.5 196.9M213.5 196.9L206.3 201.0M197.9 195.4L206.3 201.0M197.9 195.4L198.7 187.3M205.2 184.9L198.7 187.3M199.2 267.5L196.6 260.0M199.2 267.5L208.5 269.6M196.6 260.0L205.6 253.0M205.6 253.0L213.4 261.8M213.4 261.8L212.3 267.8M212.3 267.8L208.5 269.6M193.2 273.7L193.2 279.8M199.9 284.1L193.2 279.8M193.2 273.7L199.2 267.5M206.6 280.8L208.5 269.6M200.0 244.8L205.9 249.2M205.9 249.2L205.6 253.0M192.2 247.6L200.0 244.8M191.9 257.5L192.2 247.6M191.9 257.5L196.6 260.0M218.8 271.8L212.3 267.8M166.1 293.5L173.0 290.1M178.8 308.9L180.2 295.2M173.0 290.1L180.2 295.2M192.8 295.9L186.4 292.3M193.2 279.8L187.6 283.3M187.6 283.3L186.4 292.3M180.2 295.2L186.4 292.3M7.4 216.7L14.4 209.2M16.0 225.3L25.1 222.1M14.4 209.2L23.5 212.2M23.5 212.2L25.1 222.1M29.7 231.5L27.9 224.3M25.1 222.1L27.9 224.3M116.9 289.3L110.9 294.9M116.9 289.3L116.4 283.8M116.4 283.8L111.4 280.5M110.9 294.9L106.1 291.0M106.1 291.0L106.1 282.8M106.1 282.8L111.4 280.5M125.1 294.9L116.9 289.3M110.0 308.9L110.9 294.9M124.3 279.8L116.4 283.8M131.4 283.5L124.3 279.8M97.2 293.9L106.1 291.0M163.5 232.3L165.6 224.9M158.3 217.7L165.6 224.9M158.2 235.2L163.5 232.3M158.3 217.7L153.5 222.2M158.2 235.2L153.5 233.4M153.5 233.4L153.5 222.2M64.2 266.8L56.6 272.9M64.2 266.8L69.0 269.0M64.1 283.4L70.1 280.5M69.0 269.0L70.1 280.5M78.6 290.4L76.5 282.1M76.5 282.1L70.1 280.5M279.2 181.9L269.1 190.2M261.7 175.3L261.7 186.0M261.7 186.0L269.1 190.2M207.0 130.7L206.3 139.2M221.0 139.0L213.2 143.4M213.2 143.4L206.3 139.2M192.4 137.8L199.9 141.7M199.9 141.7L206.3 139.2M245.2 138.1L245.2 128.7M260.1 130.7L254.1 125.2M254.1 125.2L245.2 128.7M234.6 113.8L239.7 117.5M233.3 129.7L241.6 126.4M239.7 117.5L241.6 126.4M245.2 128.7L241.6 126.4M239.4 102.6L246.9 105.1M239.7 117.5L249.4 114.4M246.9 105.1L249.4 114.4M254.1 125.2L254.8 117.1M249.4 114.4L254.8 117.1M255.0 173.5L249.8 178.0M239.8 165.8L238.7 172.6M249.8 178.0L238.7 172.6M115.9 69.2L116.8 79.9M131.1 79.0L124.4 82.7M116.8 79.9L124.4 82.7M50.1 71.2L51.4 79.1M35.1 79.3L43.6 82.8M43.6 82.8L51.4 79.1M63.7 78.5L56.9 82.5M51.4 79.1L56.9 82.5M0.6 145.4L17.5 152.7M0.5 167.9L16.3 160.9M16.3 160.9L17.5 152.7M13.3 137.3L21.3 144.8M21.3 144.8L19.6 151.0M17.5 152.7L19.6 151.0M186.2 150.4L178.2 154.0M186.4 141.9L186.2 150.4M177.5 138.0L171.6 142.9M171.6 142.9L172.1 150.8M178.2 154.0L172.1 150.8M171.8 125.5L162.9 131.2M171.6 142.9L162.1 138.5M162.9 131.2L162.1 138.5M192.6 182.6L198.7 187.3M205.2 184.9L208.1 176.2M191.7 177.4L192.6 182.6M191.7 177.4L197.1 171.0M208.1 176.2L197.1 171.0M183.9 173.7L177.9 176.5M183.9 173.7L191.7 177.4M192.6 182.6L182.2 189.3M182.2 189.3L178.9 187.4M178.9 187.4L177.9 176.5M197.9 195.4L190.2 200.8M182.2 189.3L184.0 197.3M190.2 200.8L184.0 197.3M137.4 278.8L137.2 272.3M124.3 279.8L123.4 270.9M137.2 272.3L131.3 266.3M123.4 270.9L131.3 266.3M158.2 235.2L160.0 244.3M153.5 233.4L147.6 234.9M147.6 234.9L144.8 244.6M160.0 244.3L153.2 250.9M144.8 244.6L153.2 250.9M27.9 224.3L36.1 219.8M28.9 209.0L23.5 212.2M28.9 209.0L36.9 212.4M36.1 219.8L36.9 212.4M191.9 257.5L185.9 259.3M193.2 273.7L182.9 268.1M185.9 259.3L182.9 268.1M158.6 214.5L151.5 209.7M151.5 209.7L145.6 211.1M158.3 217.7L158.6 214.5M153.5 222.2L143.0 219.8M145.6 211.1L143.0 219.8M147.6 234.9L139.0 229.1M139.0 229.1L138.2 223.6M143.0 219.8L138.2 223.6M98.5 269.9L90.0 268.7M98.5 269.9L99.3 281.3M93.7 285.7L99.3 281.3M93.7 285.7L83.9 276.5M90.0 268.7L84.8 271.5M83.9 276.5L84.8 271.5M106.1 282.8L99.3 281.3M93.1 289.4L93.7 285.7M76.5 282.1L83.9 276.5M69.0 269.0L77.1 265.1M77.1 265.1L84.8 271.5M267.6 213.1L259.4 209.9M267.6 213.1L276.3 205.1M259.4 209.9L259.7 200.3M259.7 200.3L268.4 197.6M276.3 205.1L268.4 197.6M281.4 205.5L276.3 205.1M279.5 228.4L268.1 221.6M268.1 221.6L267.6 213.1M269.1 190.2L268.4 197.6M267.8 238.1L259.5 231.9M254.5 245.2L253.0 236.7M259.5 231.9L253.0 236.7M268.1 221.6L259.5 225.0M259.5 231.9L259.5 225.0M247.9 248.6L241.4 244.0M241.4 244.0L241.7 235.7M241.7 235.7L245.7 233.5M253.0 236.7L245.7 233.5M268.0 127.3L268.0 115.8M254.8 117.1L260.3 113.3M260.3 113.3L268.0 115.8M281.4 111.5L277.5 111.3M277.5 111.3L268.0 115.8M249.8 178.0L248.9 184.0M261.7 186.0L254.0 189.4M248.9 184.0L254.0 189.4M259.7 200.3L253.5 196.9M254.0 189.4L253.5 196.9M235.1 175.9L235.1 184.9M235.1 175.9L226.4 173.1M226.4 173.1L220.0 177.2M227.9 188.7L235.1 184.9M227.9 188.7L220.9 183.6M220.9 183.6L220.0 177.2M248.9 184.0L240.1 187.4M240.1 187.4L235.1 184.9M238.7 172.6L235.1 175.9M231.6 160.6L226.1 164.6M226.1 164.6L226.4 173.1M227.1 195.5L219.6 199.9M213.5 196.9L219.6 199.9M227.1 195.5L227.9 188.7M212.6 189.4L220.9 183.6M212.9 173.1L208.1 176.2M212.9 173.1L220.0 177.2M104.5 69.2L104.5 80.2M116.8 79.9L111.1 82.7M111.1 82.7L104.5 80.2M91.9 78.8L99.1 82.6M104.5 80.2L99.1 82.6M110.8 91.5L104.6 96.8M110.8 91.5L111.1 82.7M99.1 82.6L98.2 92.4M98.2 92.4L104.6 96.8M145.6 211.1L137.7 203.8M137.7 203.8L143.0 196.7M151.5 209.7L153.3 200.5M143.0 196.7L153.3 200.5M178.9 162.1L170.5 167.1M183.6 165.2L178.9 162.1M183.6 165.2L183.9 173.7M177.9 176.5L170.1 173.6M170.5 167.1L170.1 173.6M162.9 131.2L157.5 127.0M166.2 115.2L156.3 118.6M157.5 127.0L156.3 118.6M156.6 102.8L150.1 107.3M150.1 107.3L149.4 114.9M156.3 118.6L149.4 114.9M259.5 225.0L254.0 221.5M259.4 209.9L254.7 213.0M254.7 213.0L254.0 221.5M245.7 233.5L247.5 223.8M254.0 221.5L247.5 223.8M234.1 248.0L227.5 243.3M234.1 248.0L234.4 257.1M227.5 243.3L220.1 248.7M227.9 259.2L234.4 257.1M227.9 259.2L220.9 256.0M220.9 256.0L220.1 248.7M241.4 244.0L234.1 248.0M241.7 235.7L233.0 232.3M233.0 232.3L227.4 236.5M227.4 236.5L227.5 243.3M239.3 260.0L234.4 257.1M226.5 267.8L227.9 259.2M213.4 261.8L220.9 256.0M205.9 249.2L213.0 245.1M213.0 245.1L220.1 248.7M227.5 151.1L217.4 154.6M226.1 164.6L219.4 162.4M217.4 154.6L219.4 162.4M213.2 143.4L213.2 152.1M217.4 154.6L213.2 152.1M212.9 173.1L212.7 168.9M219.4 162.4L212.7 168.9M199.1 149.5L205.8 156.3M199.1 149.5L190.4 153.3M190.4 153.3L192.0 161.6M205.8 156.3L204.5 160.6M204.5 160.6L197.3 164.7M192.0 161.6L197.3 164.7M199.9 141.7L199.1 149.5M213.2 152.1L205.8 156.3M186.2 150.4L190.4 153.3M183.6 165.2L192.0 161.6M178.2 154.0L178.9 162.1M212.7 168.9L204.5 160.6M197.1 171.0L197.3 164.7M165.8 209.2L165.6 200.9M165.8 209.2L173.0 213.6M173.0 213.6L178.0 212.8M178.0 212.8L178.0 200.7M178.0 200.7L168.7 199.0M168.7 199.0L165.6 200.9M158.8 197.5L153.3 200.5M158.8 197.5L165.6 200.9M158.6 214.5L165.8 209.2M170.3 222.9L173.0 213.6M165.6 224.9L170.3 222.9M184.0 197.3L178.0 200.7M183.5 214.9L178.0 212.8M190.9 208.0L183.5 214.9M190.9 208.0L190.2 200.8M171.5 189.0L178.9 187.4M171.5 189.0L168.7 199.0M170.3 222.9L178.0 227.7M183.5 214.9L184.5 218.7M178.0 227.7L184.5 218.7M111.4 280.5L111.4 270.2M123.4 270.9L115.4 267.7M111.4 270.2L115.4 267.7M98.5 269.9L102.1 267.5M111.4 270.2L102.1 267.5M90.0 258.7L90.0 268.7M95.0 254.3L90.0 258.7M95.0 254.3L102.1 258.2M102.1 267.5L102.1 258.2M131.8 260.1L121.0 255.8M131.8 260.1L136.2 256.1M136.2 256.1L136.7 248.1M123.0 246.8L121.0 255.8M123.0 246.8L133.1 244.9M133.1 244.9L136.7 248.1M131.3 266.3L131.8 260.1M115.4 267.7L116.6 257.6M116.6 257.6L121.0 255.8M145.0 268.3L137.2 272.3M145.0 268.3L145.5 260.0M145.5 260.0L136.2 256.1M153.4 256.8L153.2 250.9M144.8 244.6L136.7 248.1M145.5 260.0L153.4 256.8M115.6 238.8L123.0 246.8M123.7 233.5L115.6 238.8M123.7 233.5L132.0 235.9M132.0 235.9L133.1 244.9M132.0 235.9L139.0 229.1M90.0 258.7L80.8 255.7M77.1 265.1L77.2 258.8M77.2 258.8L80.8 255.7M80.8 255.7L82.3 246.9M95.0 254.3L93.4 246.2M93.4 246.2L82.3 246.9M187.6 283.3L178.6 280.0M182.9 268.1L178.0 270.4M178.0 270.4L178.6 280.0M173.0 290.1L173.9 284.1M173.9 284.1L178.6 280.0M129.2 219.6L124.4 207.8M129.2 219.6L132.1 219.8M132.1 219.8L136.6 204.1M136.6 204.1L129.5 202.0M129.5 202.0L126.0 203.7M124.4 207.8L126.0 203.7M123.3 222.3L129.2 219.6M123.3 222.3L119.6 221.2M115.7 212.9L119.6 221.2M115.7 212.9L124.4 207.8M123.7 233.5L123.3 222.3M138.2 223.6L132.1 219.8M137.7 203.8L136.6 204.1M254.8 101.1L259.5 104.5M254.8 101.1L254.1 94.9M259.5 104.5L267.8 99.8M254.1 94.9L261.9 89.5M261.9 89.5L269.1 94.4M269.1 94.4L267.8 99.8M246.9 105.1L254.8 101.1M260.3 113.3L259.5 104.5M248.3 91.1L254.1 94.9M277.5 111.3L267.8 99.8M261.1 82.8L261.9 89.5M281.4 88.4L269.1 94.4M200.0 234.4L205.8 231.5M200.0 244.8L200.0 234.4M213.0 245.1L212.9 234.3M205.8 231.5L212.9 234.3M227.4 236.5L217.8 232.1M217.8 232.1L212.9 234.3M150.1 107.3L145.4 103.6M151.2 89.3L145.4 93.0M145.4 103.6L145.4 93.0M135.7 81.1L137.7 91.9M145.4 93.0L137.7 91.9M102.2 116.9L98.9 115.2M98.9 115.2L97.2 108.0M97.2 108.0L105.1 101.2M105.1 101.2L110.7 105.2M102.2 116.9L111.4 113.1M111.4 113.1L110.7 105.2M77.1 97.2L76.8 103.5M77.1 97.2L86.8 92.8M76.8 103.5L85.0 108.3M86.8 92.8L90.2 94.9M90.2 94.9L90.5 105.2M85.0 108.3L90.5 105.2M84.7 82.5L86.8 92.8M73.6 83.5L71.4 91.9M71.4 91.9L77.1 97.2M98.2 92.4L90.2 94.9M105.1 101.2L104.6 96.8M97.2 108.0L90.5 105.2M19.6 151.0L30.5 154.2M30.5 154.2L36.8 148.8M21.3 144.8L29.0 138.6M36.8 148.8L36.1 143.5M36.1 143.5L29.0 138.6M22.9 128.4L28.1 132.6M28.1 132.6L29.0 138.6M35.6 116.6L29.1 113.9M35.6 116.6L36.0 128.0M28.1 132.6L36.0 128.0M43.3 114.8L44.4 105.1M35.6 116.6L43.3 114.8M29.1 107.3L36.5 101.1M44.4 105.1L36.5 101.1M29.6 90.1L35.7 94.9M43.6 82.8L43.6 91.1M43.6 91.1L35.7 94.9M35.7 94.9L36.5 101.1M65.4 93.8L63.5 103.8M65.4 93.8L57.5 89.5M57.5 89.5L51.0 95.8M63.5 103.8L58.4 106.4M58.4 106.4L50.8 101.1M51.0 95.8L50.8 101.1M71.4 91.9L65.4 93.8M71.9 107.1L76.8 103.5M71.9 107.1L63.5 103.8M56.9 82.5L57.5 89.5M43.6 91.1L51.0 95.8M44.4 105.1L50.8 101.1M16.3 160.9L22.6 166.5M30.5 154.2L31.3 162.6M22.6 166.5L31.3 162.6M79.4 196.5L79.6 190.1M79.4 196.5L70.2 201.5M79.6 190.1L71.2 185.1M71.2 185.1L63.6 189.9M70.2 201.5L64.2 197.8M63.6 189.9L64.2 197.8M71.2 185.1L70.0 177.2M70.0 177.2L63.8 174.2M57.3 177.4L63.8 174.2M57.3 177.4L57.0 185.7M63.6 189.9L57.0 185.7M58.3 211.9L57.7 200.3M63.0 214.1L58.3 211.9M70.2 201.5L69.8 209.5M69.8 209.5L63.0 214.1M64.2 197.8L57.7 200.3M142.6 189.4L140.0 187.7M143.0 196.7L142.6 189.4M129.5 202.0L128.2 190.7M128.2 190.7L140.0 187.7M79.6 190.1L84.1 185.9M79.4 196.5L82.1 198.7M93.2 198.7L82.1 198.7M93.2 198.7L92.4 188.2M92.4 188.2L84.1 185.9M77.5 172.9L70.0 177.2M77.5 172.9L84.9 178.0M84.9 178.0L84.1 185.9M172.1 150.8L167.3 153.8M170.5 167.1L165.1 161.4M167.3 153.8L165.1 161.4M157.5 127.0L149.2 130.8M149.4 114.9L144.7 118.0M144.7 118.0L143.3 127.8M149.2 130.8L143.3 127.8M233.0 232.3L232.9 223.9M247.5 223.8L239.8 219.0M239.8 219.0L232.9 223.9M219.5 223.8L217.8 232.1M219.5 223.8L225.2 220.0M232.9 223.9L225.2 220.0M185.3 242.8L177.6 247.5M185.3 242.8L186.4 235.9M186.4 235.9L178.4 230.6M173.1 244.7L177.6 247.5M173.1 244.7L171.6 235.9M171.6 235.9L178.4 230.6M185.9 259.3L177.7 252.8M177.7 252.8L177.6 247.5M192.2 247.6L185.3 242.8M200.0 234.4L192.4 232.0M192.4 232.0L186.4 235.9M178.0 227.7L178.4 230.6M191.5 223.9L184.5 218.7M192.4 232.0L191.5 223.9M165.2 246.5L173.1 244.7M160.0 244.3L165.2 246.5M163.5 232.3L171.6 235.9M115.4 238.8L111.2 254.3M115.4 238.8L111.6 236.9M111.6 236.9L110.2 237.3M110.2 237.3L103.4 244.8M103.4 244.8L107.8 254.3M107.8 254.3L111.2 254.3M116.6 257.6L111.2 254.3M115.6 238.8L115.4 238.8M111.3 226.0L111.6 236.9M119.6 221.2L111.3 226.0M93.4 246.2L94.0 245.3M94.0 245.3L103.4 244.8M102.1 258.2L107.8 254.3M49.1 213.3L58.3 211.9M49.1 213.3L48.6 220.9M63.6 223.8L57.4 227.2M63.0 214.1L63.6 223.8M57.4 227.2L48.6 220.9M36.5 234.9L41.3 232.8M36.1 219.8L42.9 224.9M41.3 232.8L42.9 224.9M49.1 213.3L44.7 208.9M36.9 212.4L44.7 208.9M42.9 224.9L48.6 220.9M82.3 246.9L78.3 242.6M78.3 242.6L70.5 244.5M77.2 258.8L69.1 254.4M69.1 254.4L70.5 244.5M64.2 266.8L61.3 257.9M69.1 254.4L61.3 257.9M78.3 242.6L79.5 237.1M79.5 237.1L70.7 227.8M70.7 227.8L64.7 241.1M70.5 244.5L64.7 241.1M52.5 258.6L57.0 255.9M61.3 257.9L57.0 255.9M173.9 284.1L164.9 278.2M160.6 290.3L159.5 283.7M164.9 278.2L159.5 283.7M146.4 282.6L150.6 279.7M159.5 283.7L150.6 279.7M145.0 268.3L151.9 272.8M151.9 272.8L150.6 279.7M171.0 259.3L172.6 268.1M171.0 259.3L165.2 257.3M172.6 268.1L164.9 272.2M165.2 257.3L157.0 259.7M164.9 272.2L158.0 268.6M157.0 259.7L158.0 268.6M177.7 252.8L171.0 259.3M178.0 270.4L172.6 268.1M165.2 246.5L165.2 257.3M164.9 278.2L164.9 272.2M153.4 256.8L157.0 259.7M151.9 272.8L158.0 268.6M199.8 218.5L205.4 223.8M199.8 218.5L199.8 212.2M205.4 223.8L212.4 219.1M199.8 212.2L205.7 208.7M205.7 208.7L212.4 212.2M212.4 212.2L212.4 219.1M191.5 223.9L199.8 218.5M205.8 231.5L205.4 223.8M190.9 208.0L199.8 212.2M219.5 223.8L212.4 219.1M206.3 201.0L205.7 208.7M219.6 199.9L220.3 208.9M220.3 208.9L212.4 212.2M225.2 220.0L224.5 211.8M220.3 208.9L224.5 211.8M111.0 127.9L105.1 126.8M102.2 116.9L105.1 126.8M111.4 113.1L116.3 116.7M111.0 127.9L115.2 126.4M116.3 116.7L115.2 126.4M137.7 91.9L132.6 97.5M124.4 82.7L123.9 92.5M132.6 97.5L123.9 92.5M110.8 91.5L119.8 95.1M110.7 105.2L118.3 102.2M118.3 102.2L119.8 95.1M123.9 92.5L119.8 95.1M43.3 114.8L48.6 118.7M58.4 106.4L57.8 115.0M57.8 115.0L48.6 118.7M71.9 107.1L71.5 117.0M71.5 117.0L63.4 119.1M57.8 115.0L63.4 119.1M85.0 108.3L83.8 117.7M71.5 117.0L76.4 120.1M83.8 117.7L76.4 120.1M98.9 115.2L89.7 121.5M83.8 117.7L89.7 121.5M58.1 160.6L50.7 164.1M58.1 160.6L57.6 151.9M52.4 148.1L43.5 153.5M52.4 148.1L57.6 151.9M50.7 164.1L44.2 160.3M43.5 153.5L44.2 160.3M57.3 177.4L50.4 173.7M63.8 174.2L64.2 163.8M64.2 163.8L58.1 160.6M50.4 173.7L50.7 164.1M43.9 176.6L37.6 173.5M43.9 176.6L50.4 173.7M37.6 173.5L36.7 165.2M36.7 165.2L44.2 160.3M31.3 162.6L36.7 165.2M36.8 148.8L43.5 153.5M22.6 166.5L22.6 174.5M37.6 173.5L29.1 178.5M29.1 178.5L22.6 174.5M0.5 170.5L16.6 177.7M16.6 177.7L22.6 174.5M158.8 197.5L157.4 190.1M142.6 189.4L150.6 185.5M157.4 190.1L150.6 185.5M171.5 189.0L166.0 184.1M157.4 190.1L166.0 184.1M170.1 173.6L165.7 177.0M166.0 184.1L165.7 177.0M50.6 189.8L50.6 198.3M50.6 189.8L43.5 185.9M43.5 185.9L38.3 188.7M38.3 188.7L38.0 197.9M38.0 197.9L45.1 202.8M45.1 202.8L50.6 198.3M57.7 200.3L50.6 198.3M57.0 185.7L50.6 189.8M43.9 176.6L43.5 185.9M29.1 178.5L30.0 185.3M30.0 185.3L38.3 188.7M30.0 200.3L38.0 197.9M28.9 209.0L30.0 200.3M44.7 208.9L45.1 202.8M126.0 203.7L117.8 200.1M117.8 200.1L119.8 189.5M128.2 190.7L124.0 187.4M119.8 189.5L124.0 187.4M133.1 175.2L136.3 176.6M140.0 187.7L136.3 176.6M133.1 175.2L124.3 180.8M124.0 187.4L124.3 180.8M96.3 209.3L96.9 201.1M96.3 209.3L105.7 213.6M96.9 201.1L103.2 197.4M110.9 210.6L105.7 213.6M110.9 210.6L111.5 201.9M111.5 201.9L106.9 197.5M103.2 197.4L106.9 197.5M98.7 185.2L92.4 188.2M93.2 198.7L96.9 201.1M98.7 185.2L103.2 197.4M105.2 221.7L111.3 226.0M115.7 212.9L110.9 210.6M105.2 221.7L105.7 213.6M117.8 200.1L111.5 201.9M119.8 189.5L111.7 188.3M111.7 188.3L106.9 197.5M98.7 185.2L101.2 180.9M84.9 178.0L91.2 174.3M101.2 180.9L91.2 174.3M111.7 188.3L106.6 179.0M101.2 180.9L106.6 179.0M124.3 180.8L117.4 175.4M117.4 175.4L107.8 177.0M106.6 179.0L107.8 177.0M111.9 162.4L120.6 166.9M120.6 166.9L117.4 175.4M111.9 162.4L105.5 166.8M107.8 177.0L105.5 166.8M115.2 126.4L122.0 130.3M122.0 130.3L122.5 138.3M111.0 127.9L110.1 139.9M110.1 139.9L117.3 142.9M122.5 138.3L117.3 142.9M162.1 138.5L158.5 140.8M149.2 130.8L151.7 139.1M158.5 140.8L151.7 139.1M167.3 153.8L157.8 149.5M158.5 140.8L157.8 149.5M239.8 212.5L233.9 207.9M239.8 212.5L246.9 208.3M246.9 208.3L248.0 199.7M233.9 200.9L233.9 207.9M233.9 200.9L241.7 196.7M248.0 199.7L241.7 196.7M239.8 219.0L239.8 212.5M224.5 211.8L233.9 207.9M254.7 213.0L246.9 208.3M253.5 196.9L248.0 199.7M227.1 195.5L233.9 200.9M240.1 187.4L241.7 196.7M79.5 237.1L85.3 233.0M94.0 245.3L93.7 236.5M85.3 233.0L93.7 236.5M105.2 221.7L98.1 225.6M110.2 237.3L98.1 232.4M98.1 225.6L98.1 232.4M93.7 236.5L98.1 232.4M77.6 214.3L77.9 221.4M77.6 214.3L84.2 210.1M77.9 221.4L85.3 224.8M85.3 224.8L91.5 221.3M91.5 221.3L91.9 212.5M84.2 210.1L91.9 212.5M63.6 223.8L70.5 227.1M69.8 209.5L77.6 214.3M70.5 227.1L77.9 221.4M82.1 198.7L84.2 210.1M70.7 227.8L70.5 227.1M85.3 233.0L85.3 224.8M98.1 225.6L91.5 221.3M96.3 209.3L91.9 212.5M55.7 245.7L62.7 241.2M55.7 245.7L51.1 243.5M62.7 241.2L56.9 228.7M51.1 243.5L48.2 236.0M48.2 236.0L56.9 228.7M57.0 255.9L55.7 245.7M64.7 241.1L62.7 241.2M42.7 248.1L51.1 243.5M57.4 227.2L56.9 228.7M41.3 232.8L48.2 236.0M134.7 103.6L133.3 102.3M134.7 103.6L136.0 115.0M133.3 102.3L123.9 107.2M136.0 115.0L129.8 118.3M129.8 118.3L123.0 113.9M123.0 113.9L123.9 107.2M145.4 103.6L134.7 103.6M132.6 97.5L133.3 102.3M144.7 118.0L136.0 115.0M118.3 102.2L123.9 107.2M138.1 131.3L143.3 127.8M138.1 131.3L129.1 126.2M129.1 126.2L129.8 118.3M129.1 126.2L122.0 130.3M116.3 116.7L123.0 113.9M36.1 143.5L41.0 140.1M36.0 128.0L42.2 129.9M41.0 140.1L42.2 129.9M52.4 148.1L51.9 141.3M41.0 140.1L51.9 141.3M48.6 118.7L48.4 127.3M42.2 129.9L48.4 127.3M113.5 153.7L117.3 151.6M113.5 153.7L104.6 151.4M110.1 139.9L105.0 141.5M117.3 151.6L117.3 142.9M105.0 141.5L104.6 151.4M90.6 125.9L84.4 134.9M90.6 125.9L100.0 130.5M84.4 134.9L91.7 142.2M91.7 142.2L99.4 138.2M100.0 130.5L99.4 138.2M76.4 120.1L75.5 131.8M89.7 121.5L90.6 125.9M75.5 131.8L81.6 134.9M81.6 134.9L84.4 134.9M105.1 126.8L100.0 130.5M105.0 141.5L99.4 138.2M24.9 195.7L24.9 191.0M24.9 195.7L13.3 202.1M24.9 191.0L15.2 186.1M15.2 186.1L4.2 193.4M4.2 193.4L13.3 202.1M30.0 185.3L24.9 191.0M30.0 200.3L24.9 195.7M14.4 209.2L13.3 202.1M16.6 177.7L15.2 186.1M0.5 192.6L4.2 193.4M143.5 173.3L144.2 164.5M143.5 173.3L152.2 177.1M156.2 174.2L152.2 177.1M156.2 174.2L155.5 163.5M144.2 164.5L153.5 161.7M155.5 163.5L153.5 161.7M150.6 185.5L152.2 177.1M136.3 176.6L143.5 173.3M165.7 177.0L156.2 174.2M165.1 161.4L155.5 163.5M157.8 149.5L152.4 154.0M152.4 154.0L153.5 161.7M151.7 139.1L143.6 144.2M152.4 154.0L143.5 149.3M143.5 149.3L143.6 144.2M138.1 131.3L137.4 137.6M143.6 144.2L137.4 137.6M122.5 138.3L129.6 141.4M137.4 137.6L129.6 141.4M51.9 141.3L53.5 138.9M48.4 127.3L52.9 131.2M53.5 138.9L52.9 131.2M63.4 119.1L62.4 127.6M52.9 131.2L62.4 127.6M75.5 131.8L69.4 134.1M62.4 127.6L69.4 134.1M91.7 142.2L90.5 150.7M104.6 151.4L97.6 155.6M90.5 150.7L97.6 155.6M105.5 166.8L98.6 162.5M111.9 162.4L113.5 153.7M97.6 155.6L98.6 162.5M91.2 174.3L92.1 168.0M92.1 168.0L98.6 162.5M137.3 160.0L130.9 167.3M137.3 160.0L136.8 154.8M136.8 154.8L130.4 151.8M123.8 165.0L122.8 154.2M123.8 165.0L130.9 167.3M122.8 154.2L130.4 151.8M144.2 164.5L137.3 160.0M133.1 175.2L130.9 167.3M143.5 149.3L136.8 154.8M129.6 141.4L130.4 151.8M117.3 151.6L122.8 154.2M120.6 166.9L123.8 165.0M53.5 138.9L62.4 139.8M69.4 134.1L69.2 134.4M62.4 139.8L69.2 134.4M57.6 151.9L64.3 148.8M62.4 139.8L64.3 148.8M87.2 151.8L81.6 162.6M87.2 151.8L77.1 148.0M77.1 148.0L73.0 148.9M71.5 160.5L71.5 150.3M71.5 160.5L78.0 164.2M71.5 150.3L73.0 148.9M78.0 164.2L81.6 162.6M90.5 150.7L87.2 151.8M92.1 168.0L81.6 162.6M81.6 134.9L77.1 148.0M69.2 134.4L73.0 148.9M64.3 148.8L71.5 150.3M64.2 163.8L71.5 160.5M77.5 172.9L78.0 164.2" stroke="#0a6a0a" stroke-width="1.15" fill="none"/>
<rect x="0.55" y="43.10" width="280.80" height="265.85" fill="none" stroke="#2f8a2f" stroke-width="1.2"/>
<rect x="288" y="42.5" width="14.2" height="266.6" fill="url(#cb)" stroke="#777" stroke-width="0.6"/>
<path d="M288 86.8H293.5M296.5 86.8H302M288 131.2H293.5M296.5 131.2H302M288 175.6H293.5M296.5 175.6H302M288 220.0H293.5M296.5 220.0H302M288 264.4H293.5M296.5 264.4H302" stroke="#333" stroke-width="0.9" fill="none"/>
<g font-family="Liberation Sans, sans-serif" font-size="11.6" fill="#000" stroke="#000" stroke-width="0.35" transform="translate(311.5 0) scale(0.93 1) translate(-311.5 0)"><text x="311.5" y="47.0">380</text><text x="311.5" y="91.4">360</text><text x="311.5" y="135.8">340</text><text x="311.5" y="180.2">320</text><text x="311.5" y="224.6">300</text><text x="311.5" y="269.0">280</text><text x="311.5" y="313.4">260</text></g>
<g fill="none" stroke="#000" stroke-linecap="round" stroke-linejoin="round"><path d="M51.3 6.9C52.0 4.6 53.2 3.4 54.3 3.6C55.1 3.8 55.3 4.6 55.1 5.6M55.5 6.5C56.4 4.6 57.7 3.5 59.0 3.6C60.3 3.7 60.8 4.5 60.7 5.6M61.1 6.5C62.0 4.6 63.5 3.5 65.0 3.6C66.5 3.7 67.1 4.6 67.0 5.8M66.4 9.6C66.0 11.6 66.7 12.8 68.3 12.8C70.1 12.8 71.6 11.3 72.8 9.3" stroke-width="1.75"/><path d="M55.1 5.4L53.9 12.4M60.7 5.4L59.6 12.4M67.0 5.6L66.3 9.8" stroke-width="2.6"/></g>
<path d="M43.5 21.9H75" stroke="#000" stroke-width="1.9"/>
<path d="M73.1 17.9L81.9 21.95L73.1 26.4L73.9 21.95Z" fill="#000"/>
<text x="245.5" y="328" font-family="Liberation Sans, sans-serif" font-size="14.7" fill="#000" textLength="93" lengthAdjust="spacingAndGlyphs" stroke="#000" stroke-width="0.25">temperature T</text>
<g fill="#000">
<text x="259.3" y="348.5" font-family="Liberation Sans, sans-serif" font-size="14.7" stroke="#000" stroke-width="0.25">in</text>
<g font-family="Liberation Serif, serif" font-style="italic" stroke="#000" stroke-width="0.3">
<text x="274.3" y="348.5" font-size="16.5">k</text>
<text x="281.4" y="348.5" font-size="17.5">d</text>
<text x="294.6" y="349.5" font-size="11.2">c</text>
<text x="301.2" y="348.5" font-size="16.5">k</text>
<text x="310.4" y="352.3" font-size="11.6">B</text>
</g>
<g font-family="Liberation Serif, serif" stroke="#000" stroke-width="0.3">
<text x="294.6" y="342.6" font-size="10.2">2</text>
<text x="322.0" y="343.0" font-size="11">1</text>
</g>
<path d="M312.4 339.8H319.6" stroke="#000" stroke-width="1.1"/>
</g>
</svg>
</body></html>
